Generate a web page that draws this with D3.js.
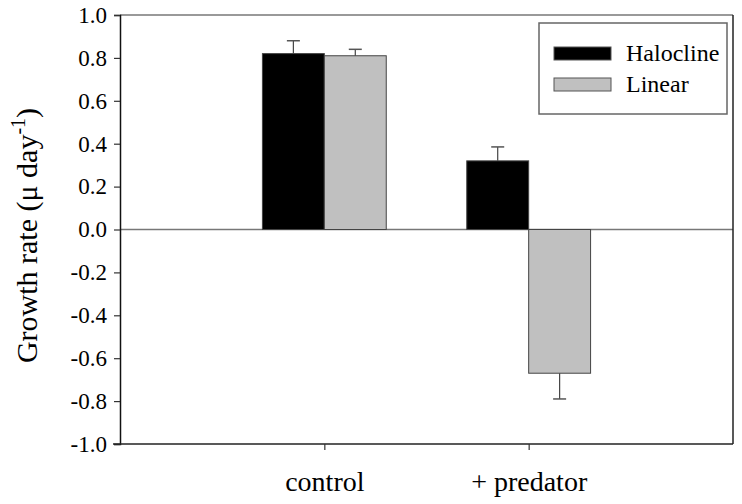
<!DOCTYPE html>
<html><head><meta charset="utf-8">
<script src="https://cdn.jsdelivr.net/npm/d3@7"></script>
</head><body style="margin:0;background:#fff">
<svg id="fig" width="742" height="504"></svg>
<script>
const categories = ["control", "+ predator"];
const seriesNames = ["Halocline", "Linear"];
const halocline = [0.82, 0.32];
const haloclineErr = [0.06, 0.065];
const linear = [0.81, -0.67];
const linearErr = [0.03, 0.12];
const yTicks = [-1.0, -0.8, -0.6, -0.4, -0.2, 0.0, 0.2, 0.4, 0.6, 0.8, 1.0];

const FONT = '"Liberation Serif", monospace';
function serif(sel, size) {
  sel.each(function() {
    this.style.setProperty("font-family", FONT, "important");
    if (size) this.style.setProperty("font-size", size + "px", "important");
  });
}
const W = 742, H = 504;
const m = {l:120, r:9, t:15, b:60};
const svg = d3.select("#fig");
const x = d3.scaleLinear().domain([0, 3]).range([m.l, W - m.r]);
const y = d3.scaleLinear().domain([-1, 1]).range([H - m.b, m.t]);
const bw = 0.303;
const colors = ["#000000", "#c0c0c0"];
const series = [halocline, linear];
const errs = [haloclineErr, linearErr];

svg.append("line").attr("x1", x(0)).attr("x2", x(3)).attr("y1", y(0)).attr("y2", y(0))
  .attr("stroke", "#777").attr("stroke-width", 1.5);

series.forEach((vals, s) => {
  vals.forEach((v, i) => {
    const x0 = x(i + 1 + (s === 0 ? -bw : 0));
    const x1 = x(i + 1 + (s === 0 ? 0 : bw));
    svg.append("rect").attr("x", x0).attr("width", x1 - x0)
      .attr("y", y(Math.max(0, v))).attr("height", Math.abs(y(v) - y(0)))
      .attr("fill", colors[s]).attr("stroke", "#444").attr("stroke-width", 1);
    const cx = (x0 + x1) / 2;
    const e = v >= 0 ? v + errs[s][i] : v - errs[s][i];
    svg.append("line").attr("x1", cx).attr("x2", cx).attr("y1", y(v)).attr("y2", y(e))
      .attr("stroke", "#444").attr("stroke-width", 1.2);
    svg.append("line").attr("x1", cx - 6.5).attr("x2", cx + 6.5).attr("y1", y(e)).attr("y2", y(e))
      .attr("stroke", "#555").attr("stroke-width", 1.5);
  });
});

svg.append("line").attr("x1", x(0)).attr("x2", x(3)).attr("y1", y(1)).attr("y2", y(1)).attr("stroke", "#777").attr("stroke-width", 1.5);
svg.append("line").attr("x1", x(3)).attr("x2", x(3)).attr("y1", y(1)).attr("y2", y(-1)).attr("stroke", "#222").attr("stroke-width", 1.5);

const yAxis = svg.append("g").attr("transform", `translate(${m.l},0)`)
  .call(d3.axisLeft(y).tickValues(yTicks).tickFormat(d => d3.format(".1f")(d).replace("\u2212", "-")).tickSizeOuter(0).tickSize(6).tickPadding(7));
yAxis.attr("font-family", "Liberation Serif").attr("font-size", 23);
yAxis.select(".domain").attr("stroke", "#111").attr("stroke-width", 1.5);
yAxis.selectAll(".tick line").attr("stroke", "#333").attr("stroke-width", 1.2);
yAxis.selectAll(".tick text").attr("fill", "#000").call(serif, 23);

const xAxis = svg.append("g").attr("transform", `translate(0,${H - m.b})`)
  .call(d3.axisBottom(x).tickValues([1, 2]).tickFormat((d) => categories[d - 1]).tickSizeOuter(0).tickSize(6).tickPadding(21));
xAxis.attr("font-family", "Liberation Serif").attr("font-size", 28);
xAxis.select(".domain").attr("stroke", "#222").attr("stroke-width", 1.5).attr("d", `M${x(0)-7},0H${x(3)}`);
xAxis.selectAll(".tick line").attr("stroke", "#333").attr("stroke-width", 1.2);
xAxis.selectAll(".tick text").attr("fill", "#000").call(serif, 28);

const t = svg.append("text").attr("transform", `translate(37,${(y(1)+y(-1))/2 + 6}) rotate(-90)`)
  .attr("text-anchor", "middle").call(serif, 30);
t.append("tspan").call(serif, 30).text("Growth rate (\u03bc day");
t.append("tspan").attr("dy", -12).call(serif, 20).text("-1");
t.append("tspan").attr("dy", 12).call(serif, 30).text(")");

const lg = svg.append("g");
lg.append("rect").attr("x", 539).attr("y", 23).attr("width", 188).attr("height", 91)
  .attr("fill", "#fff").attr("stroke", "#666").attr("stroke-width", 1.5);
seriesNames.forEach((n, i) => {
  const yy = 47 + i * 31;
  lg.append("rect").attr("x", 554).attr("y", yy).attr("width", 57).attr("height", 13)
    .attr("fill", colors[i]).attr("stroke", "#555").attr("stroke-width", 1);
  lg.append("text").attr("x", 626).attr("y", yy + 14).call(serif, 24).text(n);
});
</script></body></html>
